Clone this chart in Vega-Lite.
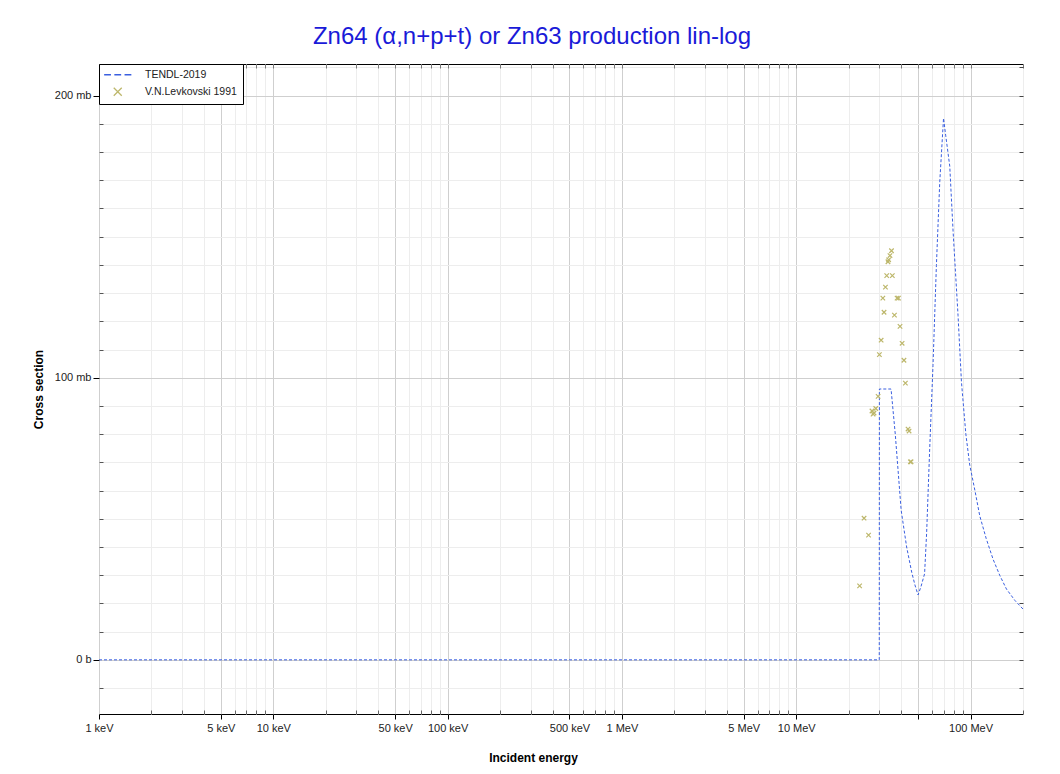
{
  "$schema": "https://vega.github.io/schema/vega-lite/v6.json",
  "width": 924,
  "height": 650,
  "autosize": {"type": "none"},
  "padding": {"left": 99, "top": 64, "right": 37, "bottom": 60},
  "background": "white",
  "title": {
    "text": "Zn64 (α,n+p+t) or Zn63 production lin-log",
    "color": "#1a1ad8",
    "fontSize": 24,
    "fontWeight": "normal",
    "font": "Liberation Sans",
    "anchor": "middle",
    "dx": -29,
    "offset": 12
  },
  "config": {
    "font": "Liberation Sans",
    "view": {"stroke": "black", "strokeWidth": 1},
    "legend": {
      "orient": "top-left",
      "offset": 0,
      "strokeColor": "black",
      "fillColor": "white",
      "padding": 5.5,
      "symbolSize": 64,
      "symbolStrokeWidth": 1.3,
      "symbolOffset": 8,
      "labelOffset": 22,
      "labelFontSize": 10.5,
      "labelColor": "#222",
      "rowPadding": 4,
      "cornerRadius": 0
    }
  },
  "data": {
    "values": [
      {"series": "TENDL-2019", "E": 0.001, "xs": 0},
      {"series": "TENDL-2019", "E": 29.95, "xs": 0},
      {"series": "TENDL-2019", "E": 30, "xs": 96},
      {"series": "TENDL-2019", "E": 35, "xs": 96},
      {"series": "TENDL-2019", "E": 37, "xs": 80},
      {"series": "TENDL-2019", "E": 40, "xs": 53},
      {"series": "TENDL-2019", "E": 43, "xs": 40},
      {"series": "TENDL-2019", "E": 46, "xs": 31},
      {"series": "TENDL-2019", "E": 48, "xs": 26.5},
      {"series": "TENDL-2019", "E": 50, "xs": 23},
      {"series": "TENDL-2019", "E": 52, "xs": 26},
      {"series": "TENDL-2019", "E": 54.5, "xs": 30.5},
      {"series": "TENDL-2019", "E": 56, "xs": 45},
      {"series": "TENDL-2019", "E": 58.3, "xs": 74.7},
      {"series": "TENDL-2019", "E": 60.9, "xs": 104.3},
      {"series": "TENDL-2019", "E": 63.7, "xs": 139.7},
      {"series": "TENDL-2019", "E": 66.6, "xs": 169.4},
      {"series": "TENDL-2019", "E": 70, "xs": 192},
      {"series": "TENDL-2019", "E": 72, "xs": 186},
      {"series": "TENDL-2019", "E": 76, "xs": 175},
      {"series": "TENDL-2019", "E": 79.4, "xs": 152},
      {"series": "TENDL-2019", "E": 84.8, "xs": 122},
      {"series": "TENDL-2019", "E": 88.7, "xs": 98.5},
      {"series": "TENDL-2019", "E": 94, "xs": 80},
      {"series": "TENDL-2019", "E": 99, "xs": 69},
      {"series": "TENDL-2019", "E": 106, "xs": 60},
      {"series": "TENDL-2019", "E": 113, "xs": 51},
      {"series": "TENDL-2019", "E": 123, "xs": 43},
      {"series": "TENDL-2019", "E": 134.6, "xs": 35.7},
      {"series": "TENDL-2019", "E": 147, "xs": 30},
      {"series": "TENDL-2019", "E": 160.7, "xs": 25.1},
      {"series": "TENDL-2019", "E": 180, "xs": 21},
      {"series": "TENDL-2019", "E": 200, "xs": 18},
      {"series": "V.N.Levkovski 1991", "E": 23.1, "xs": 26.2},
      {"series": "V.N.Levkovski 1991", "E": 24.5, "xs": 50.2},
      {"series": "V.N.Levkovski 1991", "E": 26.0, "xs": 44.2},
      {"series": "V.N.Levkovski 1991", "E": 27.2, "xs": 88.2},
      {"series": "V.N.Levkovski 1991", "E": 27.6, "xs": 87.1},
      {"series": "V.N.Levkovski 1991", "E": 27.95, "xs": 87.5},
      {"series": "V.N.Levkovski 1991", "E": 28.6, "xs": 89.1},
      {"series": "V.N.Levkovski 1991", "E": 29.5, "xs": 93.4},
      {"series": "V.N.Levkovski 1991", "E": 30.0, "xs": 108.2},
      {"series": "V.N.Levkovski 1991", "E": 30.7, "xs": 113.3},
      {"series": "V.N.Levkovski 1991", "E": 31.4, "xs": 128.2},
      {"series": "V.N.Levkovski 1991", "E": 31.9, "xs": 123.2},
      {"series": "V.N.Levkovski 1991", "E": 32.5, "xs": 132.1},
      {"series": "V.N.Levkovski 1991", "E": 33.05, "xs": 136.2},
      {"series": "V.N.Levkovski 1991", "E": 33.6, "xs": 141.1},
      {"series": "V.N.Levkovski 1991", "E": 33.9, "xs": 141.8},
      {"series": "V.N.Levkovski 1991", "E": 34.5, "xs": 143.3},
      {"series": "V.N.Levkovski 1991", "E": 35.2, "xs": 145.0},
      {"series": "V.N.Levkovski 1991", "E": 35.6, "xs": 136.2},
      {"series": "V.N.Levkovski 1991", "E": 36.6, "xs": 122.2},
      {"series": "V.N.Levkovski 1991", "E": 37.9, "xs": 128.2},
      {"series": "V.N.Levkovski 1991", "E": 38.6, "xs": 128.2},
      {"series": "V.N.Levkovski 1991", "E": 39.4, "xs": 118.2},
      {"series": "V.N.Levkovski 1991", "E": 40.5, "xs": 112.2},
      {"series": "V.N.Levkovski 1991", "E": 41.5, "xs": 106.2},
      {"series": "V.N.Levkovski 1991", "E": 42.3, "xs": 98.1},
      {"series": "V.N.Levkovski 1991", "E": 43.8, "xs": 81.8},
      {"series": "V.N.Levkovski 1991", "E": 44.4, "xs": 81.1},
      {"series": "V.N.Levkovski 1991", "E": 45.2, "xs": 70.2},
      {"series": "V.N.Levkovski 1991", "E": 45.6, "xs": 70.2}
    ]
  },
  "resolve": {"axis": {"x": "independent", "y": "independent"}},
  "layer": [
    {
      "transform": [{"filter": "datum.series === 'TENDL-2019'"}],
      "mark": {"type": "line", "color": "#3a5fe0", "strokeWidth": 1, "strokeDash": [3, 2], "clip": true},
      "encoding": {
        "x": {
          "field": "E", "type": "quantitative",
          "scale": {"type": "log", "domain": [0.001, 200], "nice": false},
          "axis": {
            "orient": "bottom",
            "values": [0.001,0.002,0.003,0.004,0.005,0.006,0.007,0.008,0.009,0.01,0.02,0.03,0.04,0.05,0.06,0.07,0.08,0.09,0.1,0.2,0.3,0.4,0.5,0.6,0.7,0.8,0.9,1,2,3,4,5,6,7,8,9,10,20,30,40,50,60,70,80,90,100,200],
            "labelExpr": "indexof([0.001,0.005,0.01,0.05,0.1,0.5,1,5,10,100], datum.value) >= 0 ? (datum.value < 1 ? round(datum.value*1000) + ' keV' : datum.value + ' MeV') : ''",
            "labelOverlap": false,
            "labelFlush": false,
            "labelBound": false,
            "labelFontSize": 11,
            "labelColor": "#222",
            "labelPadding": 3,
            "domain": false,
            "gridColor": {"condition": {"test": "indexof([0.001,0.005,0.01,0.05,0.1,0.5,1,5,10,50,100], datum.value) >= 0", "value": "#cfcfcf"}, "value": "#ededed"},
            "tickSize": {"condition": {"test": "indexof([0.001,0.005,0.01,0.05,0.1,0.5,1,5,10,50,100], datum.value) >= 0", "value": 5}, "value": -4},
            "tickColor": {"condition": {"test": "indexof([0.001,0.005,0.01,0.05,0.1,0.5,1,5,10,50,100], datum.value) >= 0", "value": "#000"}, "value": "#666"},
            "title": "Incident energy",
            "titleFontSize": 12,
            "titleFontWeight": "bold",
            "titleColor": "#000",
            "titleX": 434,
            "titleY": 43,
            "titleBaseline": "middle",
            "titleAlign": "center"
          }
        },
        "y": {
          "field": "xs", "type": "quantitative",
          "scale": {"domain": [-19.2, 211.2], "nice": false, "zero": false},
          "axis": {
            "orient": "left",
            "values": [-10,0,10,20,30,40,50,60,70,80,90,100,110,120,130,140,150,160,170,180,190,200,210],
            "labelExpr": "datum.value == 0 ? '0 b' : datum.value == 100 ? '100 mb' : datum.value == 200 ? '200 mb' : ''",
            "labelOverlap": false,
            "labelFlush": false,
            "labelBound": false,
            "labelFontSize": 11,
            "labelColor": "#222",
            "labelPadding": 2,
            "domain": false,
            "gridColor": {"condition": {"test": "datum.value == 0 || datum.value == 100 || datum.value == 200", "value": "#cfcfcf"}, "value": "#ededed"},
            "tickSize": {"condition": {"test": "datum.value == 0 || datum.value == 100 || datum.value == 200", "value": 6}, "value": -4},
            "tickColor": {"condition": {"test": "datum.value == 0 || datum.value == 100 || datum.value == 200", "value": "#000"}, "value": "#555"},
            "title": "Cross section",
            "titleFontSize": 12,
            "titleFontWeight": "bold",
            "titleColor": "#000",
            "titleAngle": -90,
            "titleX": -61,
            "titleY": 325,
            "titleBaseline": "middle",
            "titleAlign": "center"
          }
        }
      }
    },
    {
      "transform": [{"filter": "datum.series !== 'TENDL-2019'"}],
      "mark": {"type": "point", "filled": false, "strokeWidth": 1.2, "size": 20, "opacity": 1},
      "encoding": {
        "x": {
          "field": "E", "type": "quantitative",
          "scale": {"type": "log", "domain": [0.001, 200], "nice": false},
          "axis": {
            "orient": "top",
            "values": [0.001,0.002,0.003,0.004,0.005,0.006,0.007,0.008,0.009,0.01,0.02,0.03,0.04,0.05,0.06,0.07,0.08,0.09,0.1,0.2,0.3,0.4,0.5,0.6,0.7,0.8,0.9,1,2,3,4,5,6,7,8,9,10,20,30,40,50,60,70,80,90,100,200],
            "labels": false,
            "grid": false,
            "domain": false,
            "tickSize": -4,
            "tickColor": "#777",
            "title": null
          }
        },
        "y": {
          "field": "xs", "type": "quantitative",
          "scale": {"domain": [-19.2, 211.2], "nice": false, "zero": false},
          "axis": {
            "orient": "right",
            "values": [-10,0,10,20,30,40,50,60,70,80,90,100,110,120,130,140,150,160,170,180,190,200,210],
            "labels": false,
            "grid": false,
            "domain": false,
            "tickSize": -4,
            "tickColor": "#444",
            "title": null
          }
        },
        "color": {
          "field": "series", "type": "nominal",
          "scale": {"domain": ["TENDL-2019", "V.N.Levkovski 1991"], "range": ["#3a5fe0", "#bdb76b"]},
          "legend": {"title": null}
        },
        "shape": {
          "field": "series", "type": "nominal",
          "scale": {"domain": ["TENDL-2019", "V.N.Levkovski 1991"], "range": ["M-3.4,0H-1.7M-0.85,0H0.85M1.7,0H3.4", "M-1,-1L1,1M-1,1L1,-1"]},
          "legend": {"title": null}
        }
      }
    }
  ]
}
